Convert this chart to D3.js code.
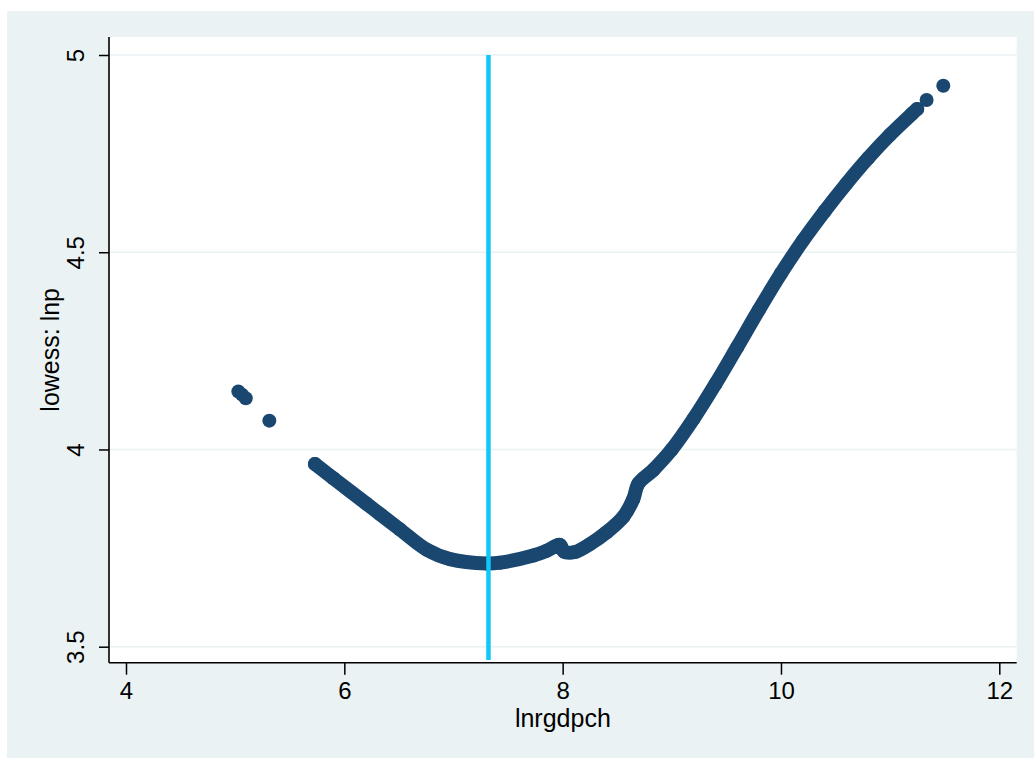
<!DOCTYPE html>
<html>
<head>
<meta charset="utf-8">
<script src="https://cdn.jsdelivr.net/npm/d3@7"></script>
<style>
  html, body { margin: 0; padding: 0; background: #ffffff; }
  svg { display: block; }
  text { font-family: "Liberation Sans", Arial, Helvetica, sans-serif; fill: #000; }
</style>
</head>
<body>
<svg id="chart" width="1034" height="758"></svg>
<script>
// Lowess-smoothed lnp against lnrgdpch
// Sparse observations at the low end of lnrgdpch
const lowX = [5.029, 5.063, 5.097, 5.313];
const lowY = [4.147, 4.139, 4.130, 4.073];

// Dense run of smoothed values (drawn as a continuous band of markers)
const curveX = [5.731, 5.899, 6.205, 6.327, 6.510, 6.754, 6.968, 7.304, 7.426, 7.731,
                7.853, 7.975, 8.012, 8.113, 8.250, 8.403, 8.555, 8.647, 8.693, 8.830,
                9.0, 9.2, 9.4, 9.6, 9.8, 10.0, 10.2, 10.4, 10.6, 10.8,
                11.0, 11.2, 11.248];
const curveY = [3.963, 3.927, 3.862, 3.836, 3.797, 3.746, 3.722, 3.711, 3.713, 3.731,
                3.743, 3.758, 3.741, 3.740, 3.760, 3.790, 3.829, 3.874, 3.913, 3.948,
                4.000, 4.078, 4.166, 4.260, 4.355, 4.446, 4.529, 4.604, 4.674, 4.739,
                4.798, 4.851, 4.863];

// Sparse observations at the high end
const highX = [11.334, 11.487];
const highY = [4.886, 4.922];

// Reference line at the turning point
const vlineX = 7.3205;
const vlineY = [3.466, 5.0];

const xTicks = [4, 6, 8, 10, 12];
const yTicks = [3.5, 4, 4.5, 5];
const xTitle = "lnrgdpch";
const yTitle = "lowess: lnp";

const W = 1034, H = 758;
const plot = { left: 109, top: 37, right: 1016.7, bottom: 662.7 };

const svg = d3.select("#chart");

// graph background
svg.append("rect").attr("x", 7).attr("y", 11)
  .attr("width", W - 7).attr("height", H - 11)
  .attr("fill", "#eaf2f3");

// plot region
svg.append("rect").attr("x", plot.left).attr("y", plot.top)
  .attr("width", plot.right - plot.left).attr("height", plot.bottom - plot.top)
  .attr("fill", "#ffffff");

const x = d3.scaleLinear().domain([4, 12]).range([126, 999.3]);
const y = d3.scaleLinear().domain([3.5, 5]).range([646.7, 55]);

// horizontal grid lines
svg.append("g").selectAll("line").data(yTicks).join("line")
  .attr("x1", plot.left).attr("x2", plot.right)
  .attr("y1", d => y(d)).attr("y2", d => y(d))
  .attr("stroke", "#eaf2f3").attr("stroke-width", 1.5);

// y axis
const yAxis = svg.append("g").attr("transform", `translate(${plot.left},0)`)
  .call(d3.axisLeft(y).tickValues(yTicks).tickSize(10).tickPadding(0)
        .tickFormat(d3.format("~g")));
yAxis.select(".domain").remove();
yAxis.selectAll(".tick line").attr("stroke", "#000").attr("stroke-width", 1.5);
yAxis.selectAll(".tick text").remove();
yAxis.selectAll(".tick").append("text")
  .attr("transform", "translate(-33,0) rotate(-90)")
  .attr("text-anchor", "middle")
  .attr("dy", "0.35em")
  .attr("font-size", 24)
  .text(d => d3.format("~g")(d));
svg.append("line").attr("x1", plot.left).attr("x2", plot.left)
  .attr("y1", plot.top).attr("y2", plot.bottom)
  .attr("stroke", "#000").attr("stroke-width", 1.6);

// x axis
const xAxis = svg.append("g").attr("transform", `translate(0,${plot.bottom})`)
  .call(d3.axisBottom(x).tickValues(xTicks).tickSize(12).tickPadding(7)
        .tickFormat(d3.format("~g")));
xAxis.select(".domain").remove();
xAxis.selectAll(".tick line").attr("stroke", "#000").attr("stroke-width", 1.5);
xAxis.selectAll(".tick text").attr("font-size", 24).attr("fill", "#000")
  .attr("font-family", "\"Liberation Sans\", Arial, Helvetica, sans-serif");
svg.append("line").attr("x1", plot.left).attr("x2", plot.right)
  .attr("y1", plot.bottom).attr("y2", plot.bottom)
  .attr("stroke", "#000").attr("stroke-width", 1.6);

// axis titles
svg.append("text").attr("x", (plot.left + plot.right) / 2).attr("y", 727)
  .attr("text-anchor", "middle").attr("font-size", 25).text(xTitle);
svg.append("text")
  .attr("transform", `translate(59,${(plot.top + plot.bottom) / 2}) rotate(-90)`)
  .attr("text-anchor", "middle").attr("font-size", 25).text(yTitle);

// smoothed values
const navy = "#1a476f";
const R = 7;
const curvePts = curveX.map((v, i) => [v, curveY[i]]);
const line = d3.line().x(d => x(d[0])).y(d => y(d[1])).curve(d3.curveCatmullRom.alpha(0.5));
svg.append("path").datum(curvePts).attr("d", line)
  .attr("fill", "none").attr("stroke", navy)
  .attr("stroke-width", 2 * R).attr("stroke-linecap", "round").attr("stroke-linejoin", "round");

const pts = lowX.map((v, i) => [v, lowY[i]])
  .concat(curvePts)
  .concat(highX.map((v, i) => [v, highY[i]]));
svg.append("g").selectAll("circle").data(pts).join("circle")
  .attr("cx", d => x(d[0])).attr("cy", d => y(d[1])).attr("r", R)
  .attr("fill", navy);

// vertical reference line
svg.append("line")
  .attr("x1", x(vlineX)).attr("x2", x(vlineX))
  .attr("y1", y(vlineY[0])).attr("y2", y(vlineY[1]))
  .attr("stroke", "#10c8f8").attr("stroke-width", 4.5);
</script>
</body>
</html>
